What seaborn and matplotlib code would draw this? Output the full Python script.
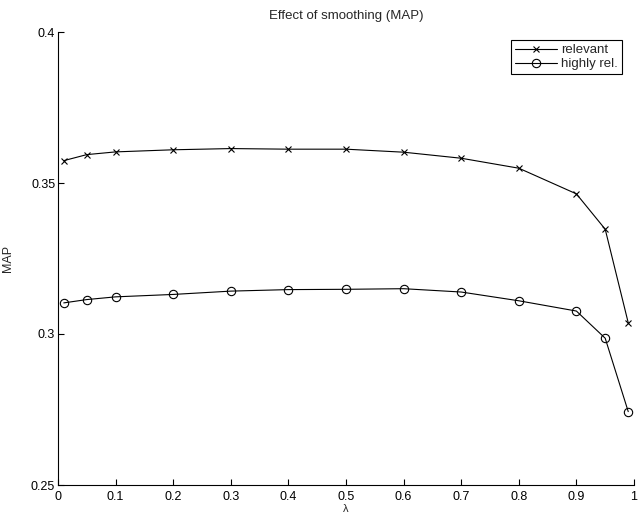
import matplotlib
matplotlib.use("Agg")
import matplotlib.pyplot as plt
import seaborn as sns
import pandas as pd

# Smoothing parameter values and mean average precision per relevance level
lam = [0.01, 0.05, 0.1, 0.2, 0.3, 0.4, 0.5, 0.6, 0.7, 0.8, 0.9, 0.95, 0.99]
map_relevant = [0.3574, 0.3594, 0.3603, 0.3610, 0.3614, 0.3612, 0.3612,
                0.3602, 0.3582, 0.3549, 0.3464, 0.3347, 0.3037]
map_highly = [0.3103, 0.3114, 0.3123, 0.3131, 0.3142, 0.3147, 0.3148,
              0.3150, 0.3139, 0.3110, 0.3076, 0.2986, 0.2743]
x_ticks = [0, 0.1, 0.2, 0.3, 0.4, 0.5, 0.6, 0.7, 0.8, 0.9, 1]
y_ticks = [0.25, 0.3, 0.35, 0.4]
y_tick_labels = ["0.25", "0.3", "0.35", "0.4"]
x_tick_labels = ["0", "0.1", "0.2", "0.3", "0.4", "0.5", "0.6", "0.7", "0.8", "0.9", "1"]

sns.set_style("white")
plt.rcParams["font.family"] = ["Liberation Sans", "DejaVu Sans"]

df = pd.DataFrame({"lam": lam, "relevant": map_relevant, "highly": map_highly})

fig = plt.figure(figsize=(6.39, 5.14), dpi=100)
ax = fig.add_axes([58 / 639, 1 - 485 / 514, (634 - 58) / 639, (485 - 32) / 514])

sns.lineplot(data=df, x="lam", y="relevant", ax=ax, color="black", lw=0.8,
             marker="x", markersize=4.5, markeredgewidth=0.8,
             markeredgecolor="black", label="relevant")
sns.lineplot(data=df, x="lam", y="highly", ax=ax, color="black", lw=0.8,
             marker="o", markersize=6, markeredgewidth=0.8,
             markerfacecolor="none", markeredgecolor="black", label="highly rel.")

ax.set_xlim(0, 1)
ax.set_ylim(0.25, 0.4)
ax.set_xticks(x_ticks)
ax.set_xticklabels(x_tick_labels)
ax.set_yticks(y_ticks)
ax.set_yticklabels(y_tick_labels)
ax.tick_params(direction="in", length=4, width=0.8, labelsize=9, colors="black",
               pad=2, left=True, bottom=True)
ax.tick_params(axis="x", pad=4)

for side in ("top", "right"):
    ax.spines[side].set_visible(False)
for side in ("left", "bottom"):
    ax.spines[side].set_color("black")
    ax.spines[side].set_linewidth(0.8)

ax.set_xlabel("λ", fontsize=8)
ax.xaxis.set_label_coords(0.5, -0.042)
ax.set_ylabel("MAP", fontsize=9)
ax.yaxis.set_label_coords(-0.076, 0.5)
ax.set_title("Effect of smoothing (MAP)", fontsize=9.5, pad=9)

leg = ax.legend(loc="upper right", bbox_to_anchor=(622 / 639, 1 - 40 / 514),
                bbox_transform=fig.transFigure, fontsize=9.5, frameon=True,
                fancybox=False, edgecolor="black", framealpha=1,
                borderpad=0.3, labelspacing=0.15, handlelength=3.2,
                handletextpad=0.3, borderaxespad=0)
leg.get_frame().set_linewidth(0.8)

fig.savefig("out.png", dpi=100)
